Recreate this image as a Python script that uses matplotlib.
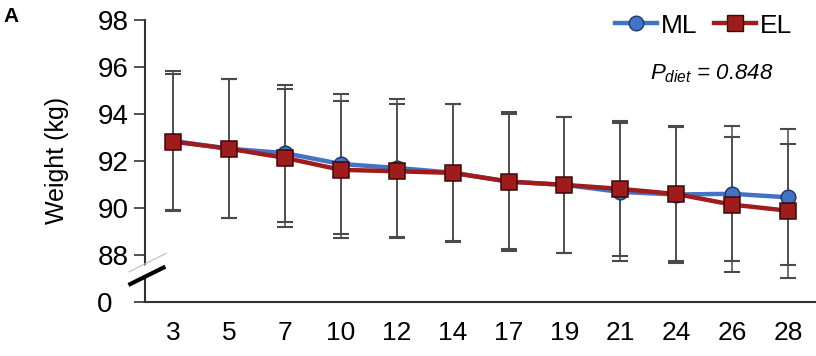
import numpy as np
import matplotlib.pyplot as plt
from matplotlib.lines import Line2D
from matplotlib.transforms import ScaledTranslation

plt.rcParams['font.family'] = ['Liberation Sans', 'DejaVu Sans']
plt.rcParams['mathtext.fontset'] = 'custom'
plt.rcParams['mathtext.it'] = 'Liberation Sans:italic'
plt.rcParams['mathtext.rm'] = 'Liberation Sans'

days = ['3', '5', '7', '10', '12', '14', '17', '19', '21', '24', '26', '28']
ml_mean = [92.85, 92.52, 92.33, 91.87, 91.70, 91.50, 91.12, 90.98, 90.68, 90.57, 90.60, 90.45]
ml_sd = [2.98, 2.95, 2.92, 2.97, 2.95, 2.92, 2.95, 2.88, 2.95, 2.90, 2.88, 2.90]
el_mean = [92.82, 92.52, 92.13, 91.62, 91.56, 91.49, 91.12, 90.98, 90.81, 90.59, 90.14, 89.88]
el_sd = [2.90, 2.95, 2.95, 2.92, 2.85, 2.92, 2.88, 2.88, 2.87, 2.85, 2.87, 2.85]

yticks = [86, 88, 90, 92, 94, 96, 98]
ylabels = ['0', '88', '90', '92', '94', '96', '98']

blue = '#4472C4'
red = '#A01B1B'

fig = plt.figure(figsize=(8.16, 3.56), dpi=100)
ax = fig.add_axes([0.178, 0.152, 0.822, 0.792])
x = np.arange(len(days))

ax.errorbar(x, ml_mean, yerr=ml_sd, fmt='none', ecolor='#4a4a4a',
            elinewidth=1.1, capsize=5.5, capthick=1.5, zorder=2)
ax.errorbar(x, el_mean, yerr=el_sd, fmt='none', ecolor='#4a4a4a',
            elinewidth=1.1, capsize=5.5, capthick=1.5, zorder=2)
ax.plot(x, ml_mean, color=blue, lw=3.2, marker='o', ms=10.5,
        mfc=blue, mec='#1F3A6E', mew=1.1, zorder=3)
ax.plot(x, el_mean, color=red, lw=3.2, marker='s', ms=11,
        mfc=red, mec='#3A0A0A', mew=1.1, zorder=4)

ax.set_xlim(-0.5, 11.5)
ax.set_ylim(86, 98)
ax.set_xticks(x)
ax.set_xticklabels(days, fontsize=19)
ax.set_yticks(yticks)
ax.set_yticklabels(ylabels, fontsize=20)
ax.tick_params(axis='x', length=0, pad=14)
ax.tick_params(axis='y', length=8, width=1.2, color='#333333', pad=4)
ax.set_ylabel('Weight (kg)', fontsize=18, labelpad=20)

# the "0" label sits further left, past the break mark
zero = ax.get_yticklabels()[0]
zero.set_transform(zero.get_transform() + ScaledTranslation(-12 / 72, 0, fig.dpi_scale_trans))

for side in ['top', 'right']:
    ax.spines[side].set_visible(False)
for side in ['left', 'bottom']:
    ax.spines[side].set_linewidth(1.5)
    ax.spines[side].set_color('#333333')

# axis break on the y spine
ax.plot([-0.024, 0.031], [0.083, 0.148], transform=ax.transAxes, color='white',
        lw=7, clip_on=False, zorder=5, solid_capstyle='butt')
ax.plot([-0.024, 0.031], [0.107, 0.172], transform=ax.transAxes, color='#bbbbbb',
        lw=0.8, clip_on=False, zorder=6)
ax.plot([-0.025, 0.03], [0.06, 0.125], transform=ax.transAxes, color='black',
        lw=3, clip_on=False, zorder=6, solid_capstyle='butt')

handles = [
    Line2D([], [], color=blue, lw=3.2, marker='o', ms=10.5, mfc=blue, mec='#1F3A6E'),
    Line2D([], [], color=red, lw=3.2, marker='s', ms=11, mfc=red, mec='#3A0A0A'),
]
ax.legend(handles, ['ML', 'EL'], loc='upper right', ncol=2, frameon=False,
          fontsize=19, handlelength=1.6, handletextpad=0.15, columnspacing=0.6,
          bbox_to_anchor=(0.98, 1.06), borderaxespad=0)

ax.text(0.752, 0.81, r'$P_{diet}$ = 0.848', transform=ax.transAxes,
        fontsize=16, style='italic', ha='left', va='center')

fig.text(0.004, 0.98, 'A', fontsize=15, fontweight='bold', va='top', ha='left')

fig.savefig('out.png', dpi=100)
